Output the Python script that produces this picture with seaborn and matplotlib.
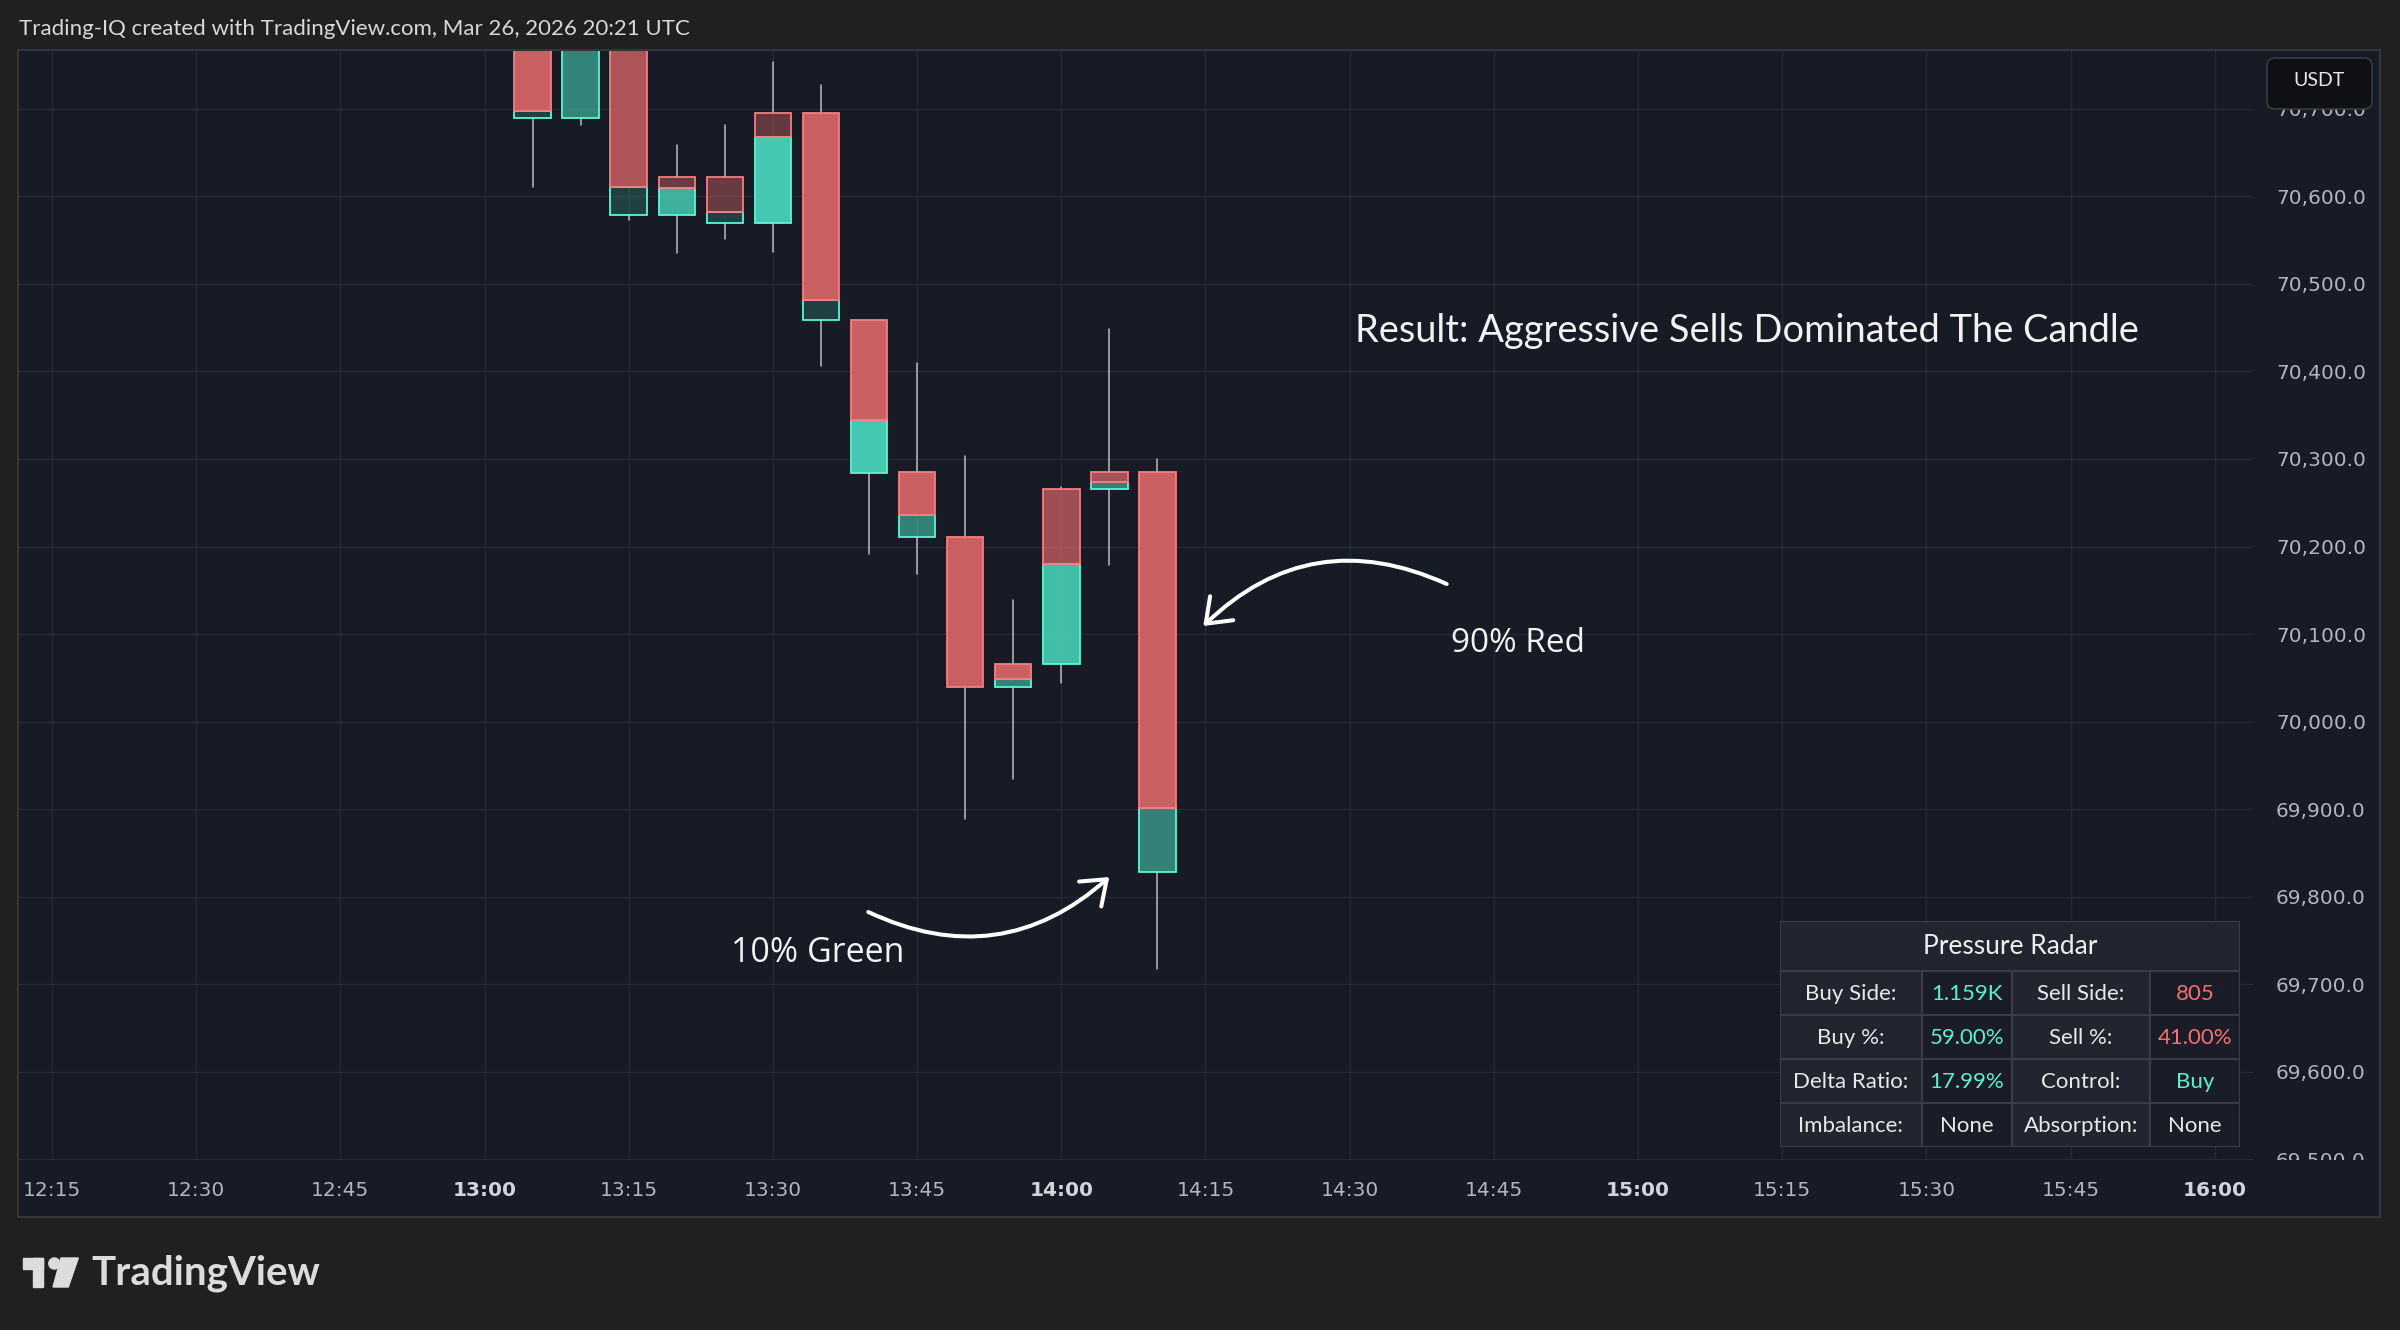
import matplotlib
matplotlib.use("Agg")
import matplotlib.pyplot as plt
from matplotlib.colors import to_rgba
from matplotlib.patches import Rectangle, FancyBboxPatch, Circle, Polygon, FancyArrowPatch
import numpy as np
import pandas as pd
import seaborn as sns

# 5-minute candles, split into sell (top, red) and buy (bottom, teal) parts
times = ["13:05", "13:10", "13:15", "13:20", "13:25", "13:30", "13:35",
         "13:40", "13:45", "13:50", "13:55", "14:00", "14:05", "14:10"]
opens = [70845, 70690, 70810, 70579, 70622, 70570, 70695, 70459, 70285, 70211, 70039, 70066, 70266, 70285]
highs = [70880, 70870, 70830, 70659, 70681, 70753, 70727, 70459, 70410, 70303, 70139, 70268, 70449, 70300]
lows = [70611, 70681, 70573, 70535, 70551, 70536, 70406, 70192, 70169, 69889, 69935, 70044, 70179, 69718]
closes = [70690, 70810, 70579, 70622, 70570, 70695, 70459, 70284, 70211, 70039, 70066, 70266, 70285, 69828]
splits = [70697, 70810, 70611, 70609, 70582, 70668, 70482, 70345, 70236, 70039, 70049, 70180, 70274, 69901]
sell_alpha = [1.0, 1.0, 0.85, 0.45, 0.45, 0.43, 1.0, 1.0, 1.0, 1.0, 1.0, 0.76, 0.8, 1.0]
buy_alpha = [0.22, 0.61, 0.22, 0.87, 0.22, 1.0, 0.22, 1.0, 0.6, 0.6, 0.6, 0.95, 0.6, 0.6]

time_ticks = ["12:15", "12:30", "12:45", "13:00", "13:15", "13:30", "13:45", "14:00",
              "14:15", "14:30", "14:45", "15:00", "15:15", "15:30", "15:45", "16:00"]
price_ticks = [69500, 69600, 69700, 69800, 69900, 70000, 70100,
               70200, 70300, 70400, 70500, 70600, 70700]

radar_labels = [["Buy Side:", "Sell Side:"], ["Buy %:", "Sell %:"],
                ["Delta Ratio:", "Control:"], ["Imbalance:", "Absorption:"]]
radar_values = [["1.159K", "805"], ["59.00%", "41.00%"], ["17.99%", "Buy"], ["None", "None"]]
radar_tone = [["buy", "sell"], ["buy", "sell"], ["buy", "buy"], ["plain", "plain"]]

W, H = 2400, 1330
BG = "#202020"
PANEL = "#171B26"
GRID = "#262A36"
RED_FILL, TEAL_FILL = "#CB6063", "#45C8AF"
RED_EDGE, TEAL_EDGE = "#F77C80", "#5CF5D5"
WICK = "#B8BCC6"
TONE = {"buy": "#5CF0D0", "sell": "#F07272", "plain": "#E8E8E8"}


def minutes(s):
    h, m = s.split(":")
    return (int(h) - 12) * 60 + int(m)


def box(x0, y0, x1, y1):
    return [x0 / W, 1 - y1 / H, (x1 - x0) / W, (y1 - y0) / H]


sns.set_theme(style="dark", rc={"axes.facecolor": PANEL, "figure.facecolor": BG})
plt.rcParams["font.family"] = ["Lato", "DejaVu Sans"]

fig = plt.figure(figsize=(W / 100, H / 100), dpi=100, facecolor=BG)

bg = fig.add_axes([0, 0, 1, 1], zorder=-1)
bg.set_xlim(0, W)
bg.set_ylim(H, 0)
bg.axis("off")
bg.add_patch(Rectangle((18, 50), 2362, 1167, facecolor=PANEL, edgecolor="none"))

# main price pane
ax = fig.add_axes(box(18, 50, 2253, 1160))
ax.set_facecolor("none")
for s in ax.spines.values():
    s.set_visible(False)

t = np.array([minutes(s) for s in times])
o, hi, lo, c, sp = map(np.array, (opens, highs, lows, closes, splits))
top = np.maximum(o, c)
bot = np.minimum(o, c)

rows = []
for i in range(len(t)):
    rows += [(2 * i, t[i], hi[i]), (2 * i, t[i], top[i]),
             (2 * i + 1, t[i], bot[i]), (2 * i + 1, t[i], lo[i])]
wicks = pd.DataFrame(rows, columns=["seg", "t", "price"])
sns.lineplot(data=wicks, x="t", y="price", units="seg", estimator=None, sort=False,
             color=WICK, lw=1.1, ax=ax, zorder=2)

buy_h = sp - bot
sell_h = top - sp
m = buy_h > 0
ax.bar(t[m], buy_h[m], bottom=bot[m], width=3.8,
       color=[to_rgba(TEAL_FILL, a) for a in np.array(buy_alpha)[m]],
       edgecolor=TEAL_EDGE, linewidth=1.3, zorder=3)
m = sell_h > 0
ax.bar(t[m], sell_h[m], bottom=sp[m], width=3.8,
       color=[to_rgba(RED_FILL, a) for a in np.array(sell_alpha)[m]],
       edgecolor=RED_EDGE, linewidth=1.3, zorder=3.1)

ax.set_xlim(11.46, 243.98)
ax.set_ylim(69499.3, 70767.1)
ax.set_xlabel("")
ax.set_ylabel("")
ax.set_xticks([minutes(s) for s in time_ticks])
ax.set_xticklabels([])
ax.set_yticks(price_ticks)
ax.set_yticklabels([f"{p:,.1f}" for p in price_ticks], fontfamily="DejaVu Sans")
ax.yaxis.tick_right()
ax.tick_params(axis="x", length=0)
ax.tick_params(axis="y", length=0, pad=16.5, labelsize=14.5, labelcolor="#B2B5BE")
ax.grid(True, color=GRID, lw=1.0)
ax.set_axisbelow(True)

# time scale strip
tax = fig.add_axes(box(18, 1160, 2380, 1217), zorder=2)
tax.set_facecolor(PANEL)
x0, x1 = ax.get_xlim()
tax.set_xlim(x0, x0 + (x1 - x0) * (2380 - 18) / (2253 - 18))
tax.set_ylim(0, 1)
tax.set_xticks([])
tax.set_yticks([])
for s in tax.spines.values():
    s.set_visible(False)
for lab in time_ticks:
    hour = lab.endswith(":00")
    tax.text(minutes(lab), 0.46, lab, ha="center", va="center", fontsize=14.5,
             fontfamily="DejaVu Sans", fontweight="bold" if hour else "normal",
             color="#D1D4DC" if hour else "#B2B5BE")

# Pressure Radar table
tb = fig.add_axes(box(1780, 921, 2240, 1147), zorder=5)
tb.set_xlim(0, 460)
tb.set_ylim(226, 0)
tb.axis("off")
cols = [0, 141.7, 231.7, 370, 460]
rws = [0, 50, 94, 138.3, 182.3, 226]
tb.add_patch(Rectangle((0, 0), 460, 50, facecolor="#22252F", edgecolor="#3A3D48", lw=1.5))
tb.text(230, 26, "Pressure Radar", ha="center", va="center", fontsize=19, color="#EDEDED")
for r in range(4):
    for k in range(4):
        x, y = cols[k], rws[r + 1]
        w, h = cols[k + 1] - x, rws[r + 2] - y
        tb.add_patch(Rectangle((x, y), w, h, facecolor="#22252F" if k % 2 == 0 else "#1A1D27",
                               edgecolor="#3A3D48", lw=1.5))
        if k % 2 == 0:
            txt, col = radar_labels[r][k // 2], "#E8E8E8"
        else:
            txt, col = radar_values[r][k // 2], TONE[radar_tone[r][k // 2]]
        tb.text(x + w / 2, y + h / 2 + 1, txt, ha="center", va="center", fontsize=16, color=col)

# overlay: frame, header, annotations, logo
ov = fig.add_axes([0, 0, 1, 1], zorder=10)
ov.set_xlim(0, W)
ov.set_ylim(H, 0)
ov.axis("off")
ov.add_patch(Rectangle((18, 50), 2362, 1167, facecolor="none", edgecolor="#33363F", lw=1.5))
ov.text(19, 29, "Trading-IQ created with TradingView.com, Mar 26, 2026 20:21 UTC",
        ha="left", va="center", fontsize=16, color="#D8D8D8")

ov.add_patch(FancyBboxPatch((2267, 58), 105, 51, boxstyle="round,pad=0,rounding_size=8",
                            facecolor="#0F1013", edgecolor="#3B3B40", lw=1.2))
ov.text(2319, 81, "USDT", ha="center", va="center", fontsize=14, color="#E6E6E6")

ov.text(1355, 331, "Result: Aggressive Sells Dominated The Candle", ha="left", va="center",
        fontsize=27.4, color="#F2F2F2")
ov.text(1451, 643, "90% Red", ha="left", va="center", fontsize=24,
        fontfamily="Open Sans", color="#F2F2F2")
ov.text(731, 953, "10% Green", ha="left", va="center", fontsize=24.5,
        fontfamily="Open Sans", color="#F2F2F2")

arrow_style = "->,head_length=0.8,head_width=0.6"
ov.add_patch(FancyArrowPatch((1446.7, 584), (1203.3, 626), connectionstyle="arc3,rad=0.34",
                             arrowstyle=arrow_style, mutation_scale=20, lw=2.9,
                             color="white", shrinkA=0, shrinkB=0))
ov.add_patch(FancyArrowPatch((868.3, 912), (1109.3, 877), connectionstyle="arc3,rad=0.33",
                             arrowstyle=arrow_style, mutation_scale=20, lw=2.9,
                             color="white", shrinkA=0, shrinkB=0))

logo = "#DCDCDC"
ov.add_patch(Rectangle((22.7, 1258), 20.6, 11, color=logo))
ov.add_patch(Rectangle((33.3, 1258), 10, 29, color=logo))
ov.add_patch(Circle((54.3, 1263.5), 5.5, color=logo))
ov.add_patch(Polygon([(61, 1258), (78.3, 1258), (68.3, 1287), (53, 1287)], color=logo))
ov.text(91.7, 1273, "TradingView", ha="left", va="center", fontsize=29,
        fontweight="bold", color=logo)

fig.savefig("out.png", dpi=100, facecolor=BG)
plt.close("all")
